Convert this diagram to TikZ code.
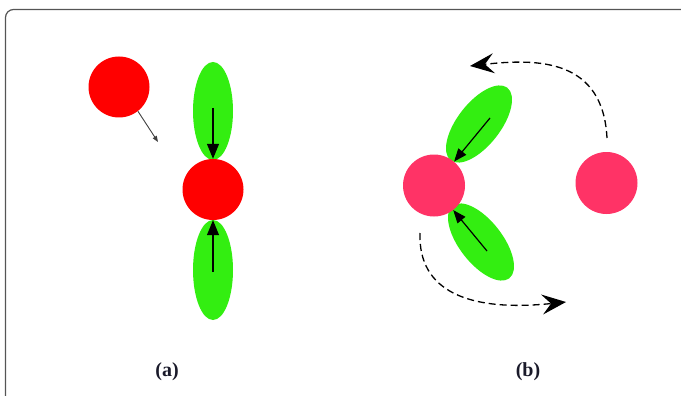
\documentclass[tikz,border=0pt]{standalone}
\usepackage{fontspec}
\setmainfont{Liberation Serif}
\usetikzlibrary{shapes.geometric,arrows.meta}
\definecolor{ballred}{HTML}{FF0000}
\definecolor{ballpink}{HTML}{FF3366}
\definecolor{lobegreen}{HTML}{33EE11}
\definecolor{framegray}{HTML}{555555}
\definecolor{labtext}{HTML}{1A1A2A}
\newcommand{\labfont}{\bfseries\fontsize{20}{23}\selectfont}
\tikzset{
  ball/.style={circle,inner sep=0pt,minimum size=61pt,draw=none},
  lobe/.style={ellipse,inner sep=0pt,fill=lobegreen,draw=none},
  bigarrow/.style={line width=1.2pt,-{Triangle[length=15pt,width=12pt]}},
  midarrow/.style={line width=1.2pt,-{Triangle[length=13pt,width=10pt]}},
  smallarrow/.style={line width=0.9pt,draw=black!75,-{Triangle[length=6pt,width=4.5pt]}},
  dasharc/.style={line width=1.3pt,dash pattern=on 7pt off 4pt,-{Stealth[length=24pt,width=20pt,inset=9pt]}},
  lab/.style={font=\labfont,text=labtext,inner sep=0pt}
}
\begin{document}
\begin{tikzpicture}[x=1pt,y=-1pt]
\useasboundingbox (0,0) rectangle (681,396);
\clip (0,0) rectangle (681,396);
\draw[framegray,line width=1.2pt,rounded corners=8pt] (5.5,9.5) rectangle (700,420);
% panel (a)
\node[lobe,minimum width=40pt,minimum height=98pt] (ta) at (213,111) {};
\node[lobe,minimum width=40pt,minimum height=100pt] (ba) at (213,270) {};
\node[ball,fill=ballred] (ca) at (213,189.5) {};
\node[ball,fill=ballred] (fa) at (119,87) {};
\coordinate (fe) at (158,142);
\coordinate (ts) at (213,108);
\coordinate (bs) at (213,272);
\draw[smallarrow] (fa.-52) -- (fe);
\draw[bigarrow] (ts) -- (ca.north);
\draw[bigarrow] (bs) -- (ca.south);
\node[lab] (la) at (167,372) {(a)};
% panel (b)
\node[lobe,minimum width=92pt,minimum height=43pt,rotate=52] (tb) at (479,124) {};
\node[lobe,minimum width=92pt,minimum height=43pt,rotate=-52] (bb) at (481,242) {};
\node[ball,fill=ballpink,minimum size=62pt] (cb) at (434,185.5) {};
\node[ball,fill=ballpink,minimum size=62pt] (rb) at (606.5,183) {};
\coordinate (tbs) at (490,118);
\coordinate (bbs) at (487,251);
\draw[midarrow] (tbs) -- (cb.50);
\draw[midarrow] (bbs) -- (cb.-52);
\coordinate (as) at (607,138);
\coordinate (ae) at (470,66);
\coordinate (bs2) at (420,233);
\coordinate (be) at (566,302);
\draw[dasharc] (as) .. controls (603,60) and (540,58) .. (ae);
\draw[dasharc] (bs2) .. controls (418,292) and (470,312) .. (be);
\node[lab] (lb) at (528,372) {(b)};
\end{tikzpicture}
\end{document}
